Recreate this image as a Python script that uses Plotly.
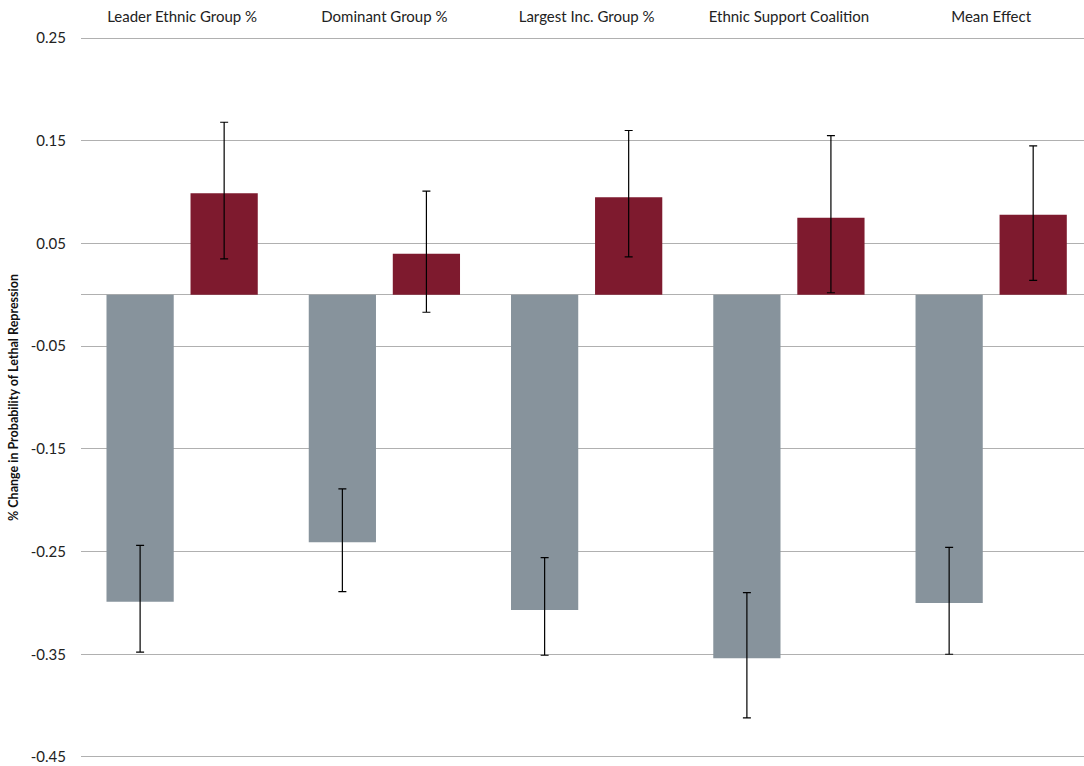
import plotly.graph_objects as go

categories = ["Leader Ethnic Group %", "Dominant Group %", "Largest Inc. Group %",
              "Ethnic Support Coalition", "Mean Effect"]
gray_vals = [-0.299, -0.241, -0.307, -0.354, -0.300]
gray_hi = [-0.244, -0.189, -0.256, -0.290, -0.246]
gray_lo = [-0.348, -0.289, -0.351, -0.412, -0.350]
red_vals = [0.099, 0.040, 0.095, 0.075, 0.078]
red_hi = [0.168, 0.101, 0.160, 0.155, 0.145]
red_lo = [0.035, -0.017, 0.037, 0.002, 0.014]
tick_vals = [0.25, 0.15, 0.05, -0.05, -0.15, -0.25, -0.35, -0.45]
tick_text = ["0.25", "0.15", "0.05", "-0.05", "-0.15", "-0.25", "-0.35", "-0.45"]

def err(vals, hi, lo):
    return (dict(type="data", symmetric=False,
                 array=[h - v for h, v in zip(hi, vals)],
                 arrayminus=[v - l for v, l in zip(vals, lo)],
                 color="black", thickness=1.2, width=4))

fig = go.Figure()
fig.add_trace(go.Bar(x=categories, y=gray_vals, marker_color="#87939c",
                     marker_line_width=0, error_y=err(gray_vals, gray_hi, gray_lo),
                     showlegend=False))
fig.add_trace(go.Bar(x=categories, y=red_vals, marker_color="#7e1a2e",
                     marker_line_width=0, error_y=err(red_vals, red_hi, red_lo),
                     showlegend=False))

fig.update_layout(
    width=1084, height=766,
    margin=dict(l=81, r=0, t=36, b=7),
    paper_bgcolor="white", plot_bgcolor="white",
    barmode="group", bargap=0.169, bargroupgap=0.2,
    font=dict(family="Lato, Open Sans, sans-serif", size=15, color="#222"),
    xaxis=dict(side="top", showgrid=False, showline=False, ticks="",
               range=[-0.5, 4.459], ticklabelstandoff=10,
               tickfont=dict(size=15, color="#222")),
    yaxis=dict(range=[-0.452, 0.252], tickvals=tick_vals, ticktext=tick_text,
               showgrid=True, gridcolor="#b0b0b0", gridwidth=1,
               zeroline=True, zerolinecolor="#b0b0b0", zerolinewidth=1,
               ticks="", ticklabelstandoff=14,
               tickfont=dict(size=15, color="#222"),
               title=dict(text="<b>% Change in Probability of Lethal Repression</b>",
                          font=dict(size=12.5, color="#111"), standoff=9)),
)
fig.write_html("out.html")
